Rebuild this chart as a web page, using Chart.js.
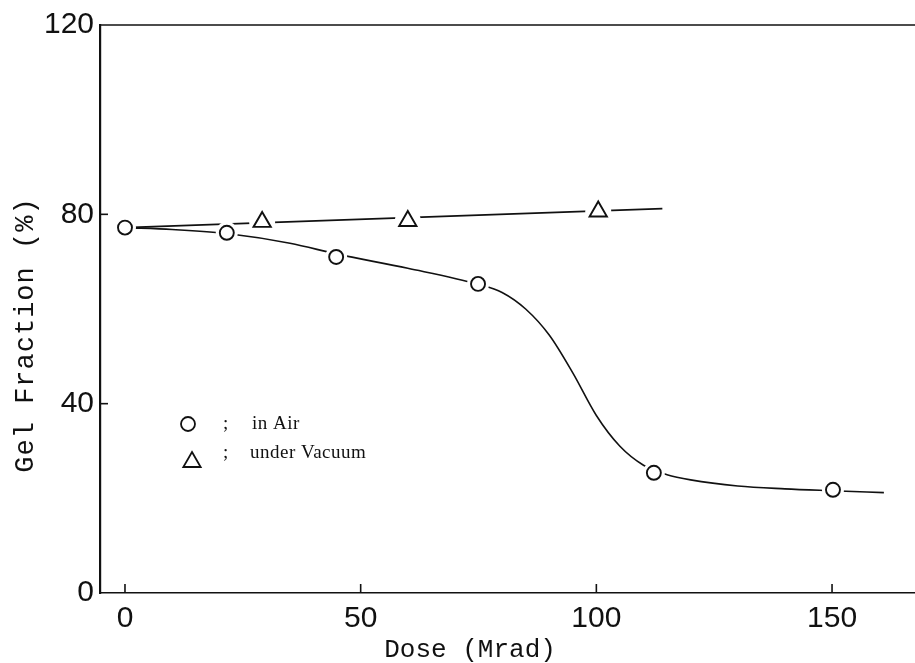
<!DOCTYPE html>
<html>
<head>
<meta charset="utf-8">
<script src="https://cdn.jsdelivr.net/npm/chart.js@4/dist/chart.umd.min.js"></script>
<style>
  html, body { margin: 0; padding: 0; background: #fff; }
  #c { display: block; }
</style>
</head>
<body>
<canvas id="c" width="915" height="663"></canvas>
<script>
// Gel fraction vs. irradiation dose, measured in air and under vacuum
const doseAir = [0, 21.6, 44.8, 74.9, 112.2, 150.2];
const gelAir = [77.2, 76.1, 71.0, 65.3, 25.4, 21.8];

const doseVac = [29.1, 60.0, 100.4];
const gelVac = [78.4, 78.6, 80.6];

// hand-drawn guide curve through the air points
const curveAirDose = [0, 10, 22, 35, 45, 60, 75, 80, 85, 90, 95, 100, 105, 110, 115, 120, 130, 140, 150, 161];
const curveAirGel = [77.2, 76.8, 75.9, 73.9, 71.6, 68.6, 65.2, 63.5, 60.0, 54.5, 46.5, 37.5, 31.0, 27.0, 25.0, 23.9, 22.6, 22.0, 21.6, 21.2];

// straight guide line through the vacuum points
const lineVacDose = [0, 114];
const lineVacGel = [77.2, 81.2];

const xTicks = [0, 50, 100, 150];
const yTicks = [0, 40, 80, 120];
const xRange = [-5.3, 167.6];
const yRange = [0, 120];

const xTitle = 'Dose (Mrad)';
const yTitle = 'Gel Fraction (%)';
const legendAir = 'in Air';
const legendVac = 'under Vacuum';

const INK = '#111';
const toPts = (xs, ys) => xs.map((x, i) => ({ x, y: ys[i] }));

// inward ticks, closing top line, axis titles and the in-plot key
const decorations = {
  id: 'decorations',
  afterDraw(chart) {
    const { ctx, chartArea: a, scales: { x, y } } = chart;
    ctx.save();
    ctx.strokeStyle = INK;
    ctx.fillStyle = INK;

    // top frame line at the upper limit
    ctx.lineWidth = 1.6;
    const yTop = y.getPixelForValue(120);
    ctx.beginPath();
    ctx.moveTo(a.left, yTop);
    ctx.lineTo(a.right, yTop);
    ctx.stroke();

    // ticks pointing into the plot
    ctx.lineWidth = 1.6;
    xTicks.forEach(v => {
      const px = x.getPixelForValue(v);
      ctx.beginPath();
      ctx.moveTo(px, a.bottom);
      ctx.lineTo(px, a.bottom - 9);
      ctx.stroke();
    });
    yTicks.slice(1, 3).forEach(v => {
      const py = y.getPixelForValue(v);
      ctx.beginPath();
      ctx.moveTo(a.left, py);
      ctx.lineTo(a.left + 8, py);
      ctx.stroke();
    });

    // axis titles
    ctx.font = '26px "Liberation Mono", "DejaVu Sans Mono", monospace';
    ctx.textAlign = 'center';
    ctx.textBaseline = 'middle';
    ctx.fillText(xTitle, x.getPixelForValue(73.2), 650);

    ctx.save();
    ctx.translate(26, y.getPixelForValue(54.5));
    ctx.rotate(-Math.PI / 2);
    ctx.font = '27px "Liberation Mono", "DejaVu Sans Mono", monospace';
    if ('letterSpacing' in ctx) ctx.letterSpacing = '1px';
    ctx.fillText(yTitle, 0, 0);
    ctx.restore();

    // key
    const style = { borderWidth: 1.8, pointStyle: 'circle', radius: 7, rotation: 0 };
    ctx.fillStyle = '#fff';
    ctx.lineWidth = 1.8;
    Chart.helpers.drawPoint(ctx, style, 188, 424);
    Chart.helpers.drawPoint(ctx, { ...style, pointStyle: 'triangle', radius: 10 }, 192, 462);
    ctx.fillStyle = INK;
    ctx.font = '19px "Liberation Serif", "DejaVu Serif", serif';
    ctx.textAlign = 'left';
    ctx.textBaseline = 'alphabetic';
    if ('letterSpacing' in ctx) ctx.letterSpacing = '0.5px';
    ctx.fillText(';', 223, 429);
    ctx.fillText(';', 223, 458);
    ctx.fillText(legendAir, 252, 429);
    ctx.fillText(legendVac, 250, 458);

    ctx.restore();
  }
};

const noPad = s => { s.paddingLeft = 0; s.paddingRight = 0; s.paddingTop = 0; s.paddingBottom = 0; };

new Chart(document.getElementById('c'), {
  type: 'scatter',
  data: {
    datasets: [
      {
        label: 'air curve',
        data: toPts(curveAirDose, curveAirGel),
        showLine: true,
        borderColor: INK,
        borderWidth: 1.6,
        pointRadius: 0,
        cubicInterpolationMode: 'monotone',
        order: 3
      },
      {
        label: 'vacuum line',
        data: toPts(lineVacDose, lineVacGel),
        showLine: true,
        borderColor: INK,
        borderWidth: 1.6,
        pointRadius: 0,
        order: 3
      },
      {
        label: 'air gap',
        data: toPts(doseAir, gelAir),
        showLine: false,
        pointStyle: 'circle',
        pointRadius: 11,
        pointBackgroundColor: '#fff',
        pointBorderWidth: 0,
        order: 2
      },
      {
        label: 'vacuum gap',
        data: toPts(doseVac, gelVac),
        showLine: false,
        pointStyle: 'circle',
        pointRadius: 13,
        pointBackgroundColor: '#fff',
        pointBorderWidth: 0,
        order: 2
      },
      {
        label: 'in Air',
        data: toPts(doseAir, gelAir),
        showLine: false,
        pointStyle: 'circle',
        pointRadius: 7,
        pointBackgroundColor: '#fff',
        pointBorderColor: INK,
        pointBorderWidth: 1.9,
        order: 1
      },
      {
        label: 'under Vacuum',
        data: toPts(doseVac, gelVac),
        showLine: false,
        pointStyle: 'triangle',
        pointRadius: 10,
        pointBackgroundColor: '#fff',
        pointBorderColor: INK,
        pointBorderWidth: 1.9,
        order: 1
      }
    ]
  },
  options: {
    responsive: false,
    devicePixelRatio: 1,
    animation: false,
    events: [],
    layout: { autoPadding: false, padding: { top: 25, right: 0, bottom: 0, left: 0 } },
    plugins: {
      legend: { display: false },
      tooltip: { enabled: false },
      title: { display: false }
    },
    scales: {
      x: {
        type: 'linear',
        min: xRange[0],
        max: xRange[1],
        afterBuildTicks: s => { s.ticks = xTicks.map(v => ({ value: v })); },
        afterFit: s => { s.height = 70; noPad(s); },
        grid: { display: false, drawTicks: false },
        border: { display: true, color: INK, width: 1.6 },
        ticks: {
          color: INK,
          padding: 8,
          maxRotation: 0,
          font: { family: '"Liberation Sans Narrow", "Liberation Sans", sans-serif', size: 30 }
        }
      },
      y: {
        type: 'linear',
        min: yRange[0],
        max: yRange[1],
        afterBuildTicks: s => { s.ticks = yTicks.map(v => ({ value: v })); },
        afterFit: s => { s.width = 100; noPad(s); },
        grid: { display: false, drawTicks: false },
        border: { display: true, color: INK, width: 2.2 },
        ticks: {
          color: INK,
          padding: 6,
          font: { family: '"Liberation Sans Narrow", "Liberation Sans", sans-serif', size: 30 }
        }
      }
    }
  },
  plugins: [decorations]
});
</script>
</body>
</html>
